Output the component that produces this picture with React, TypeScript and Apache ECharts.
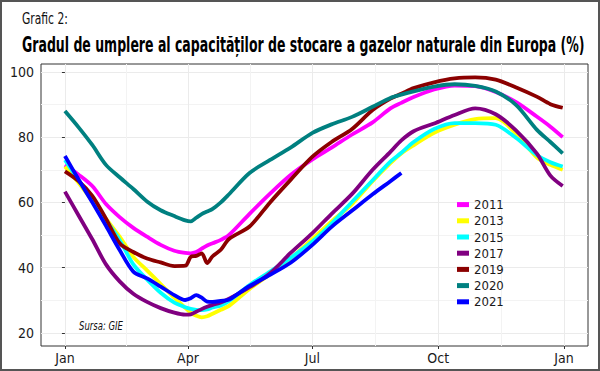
import React, { useEffect, useRef } from 'react';
import * as echarts from 'echarts';

const YEARS = ['2011', '2013', '2015', '2017', '2019', '2020', '2021'];
const COLORS = ['#FF00FF', '#FFFF00', '#00FFFF', '#800080', '#8B0000', '#008080', '#0000FF'];

const DAYS = [0, 10, 20, 30, 40, 50, 60, 70, 80, 88, 92, 96, 100, 104, 108, 114, 120, 135, 150, 165, 181, 195, 210, 225, 238, 246, 255, 270, 285, 300, 315, 330, 345, 355, 364];

const V2011 = [71.5, 68.5, 65, 59.5, 55.5, 52.2, 49.5, 47, 45.2, 44.5, 44.4, 44.8, 45.8, 46.8, 47.5, 48.5, 50, 56.5, 62.7, 68.4, 73.2, 76.8, 80.8, 84.5, 88.8, 90.5, 92.3, 94.6, 95.8, 95.6, 93.8, 90.7, 86.3, 83.2, 80];
const V2013 = [71, 66, 60.5, 55, 49.5, 43.3, 39.2, 35, 30.8, 27.7, 26.2, 25.3, 24.8, 25.1, 25.9, 27.1, 28.3, 33.5, 38, 42.8, 48.8, 54.2, 59.5, 66.5, 72, 75, 77.5, 81.3, 83.8, 85.5, 85.8, 81, 73.8, 71.5, 70];
const V2015 = [73, 66.8, 60.5, 54.5, 48.5, 41, 36.4, 32.3, 29.3, 27.9, 27.4, 27.1, 27, 27.2, 27.8, 28.4, 29.8, 34.7, 38.8, 43, 48, 53.5, 60.2, 66.8, 72.5, 75.2, 78.5, 82.5, 84.3, 84.3, 83.8, 79.7, 74.5, 72.3, 71];
const V2017 = [63.3, 56, 48.7, 41, 35.8, 32, 29.5, 27.6, 26.2, 25.6, 25.7, 26.5, 27.3, 28, 28.6, 29.3, 30.5, 34, 38.3, 44.5, 50.6, 56.5, 62.6, 70, 75.5, 79, 81.8, 84.2, 86.8, 88.8, 87, 82, 75, 68.2, 65];
const V2019 = [69.5, 66.5, 62, 55, 47.5, 44.8, 42.8, 41.6, 40.5, 40.6, 43.3, 43.6, 44.4, 41.4, 43.5, 45.5, 48.8, 52.6, 60, 66.9, 74, 78.5, 82.5, 88.3, 91.8, 93.3, 95, 96.8, 98, 98.3, 97.6, 95.2, 92.4, 90.1, 89];
const V2020 = [88, 83, 77.6, 71.5, 67.7, 64.1, 60.3, 57.6, 55.8, 54.5, 54.2, 55.3, 56.4, 57.2, 58, 60, 62.5, 69, 73, 76.8, 81.3, 83.9, 86.2, 89.3, 92, 93, 94, 95.5, 96.2, 95.7, 94, 89.8, 82.3, 78.5, 75];
const V2021 = [74.2, 67, 60, 52.8, 45.4, 38.8, 36.7, 34.2, 31.6, 30.1, 30.6, 31.6, 30.8, 29.6, 29.5, 29.8, 30.2, 34.4, 37.8, 41.5, 47, 52.5, 57.5, 62.5, 66.5, 69];

const VALUES = [V2011, V2013, V2015, V2017, V2019, V2020, V2021];

const X_TICKS = [0, 90, 181, 273, 365];
const X_LABELS = ['Jan', 'Apr', 'Jul', 'Oct', 'Jan'];
const X_MINOR = [45, 135.5, 227, 319];
const Y_TICKS = [20, 40, 60, 80, 100];
const Y_MINOR = [30, 50, 70, 90];

const SUPTITLE = 'Grafic 2:';
const TITLE = 'Gradul de umplere al capacităților de stocare a gazelor naturale din Europa (%)';
const SOURCE = 'Sursa: GIE';

const FONT = "'DejaVu Sans Condensed', 'Liberation Sans Narrow', 'Liberation Sans', sans-serif";

export default function App() {
  const ref = useRef<HTMLDivElement>(null);
  useEffect(() => {
    document.body.style.margin = '0';
    const chart = echarts.init(ref.current!, null, { renderer: 'svg' });
    const ctx = document.createElement('canvas').getContext('2d')!;
    const fit = (text: string, font: string, target: number) => {
      ctx.font = font;
      const w = ctx.measureText(text).width;
      return w > 0 ? target / w : 1;
    };
    const titleFont = `bold 21px ${FONT}`;
    const supFont = `15px ${FONT}`;
    const srcFont = `italic 12px ${FONT}`;

    const series = YEARS.map((y, i) => ({
      name: y,
      type: 'line',
      xAxisIndex: 0,
      yAxisIndex: 0,
      symbol: 'none',
      smooth: 0.3,
      lineStyle: { width: 3.8, color: COLORS[i], cap: 'butt', join: 'round' },
      itemStyle: { color: COLORS[i] },
      data: VALUES[i].map((v, j) => [DAYS[j], v]),
      z: 2 + i,
    }));

    chart.setOption({
      animation: false,
      backgroundColor: '#ffffff',
      grid: { left: 41, right: 12, top: 64, bottom: 25, show: true, borderColor: '#333333', borderWidth: 1, backgroundColor: 'transparent' },
      xAxis: [
        {
          type: 'value', min: -17.5, max: 382.5,
          axisLine: { show: false },
          axisTick: { show: true, length: 3, lineStyle: { color: '#333333' }, customValues: X_TICKS },
          axisLabel: {
            show: true, customValues: X_TICKS, margin: 5, fontSize: 14, fontFamily: FONT, color: '#1a1a1a',
            formatter: (v: number) => X_LABELS[X_TICKS.indexOf(v)] ?? '',
          },
          splitLine: { show: true, lineStyle: { color: '#EBEBEB', width: 1 } },
        },
        {
          type: 'value', min: -17.5, max: 382.5, position: 'bottom',
          axisLine: { show: false },
          axisTick: { show: false, customValues: X_MINOR },
          axisLabel: { show: false, customValues: X_MINOR },
          splitLine: { show: true, lineStyle: { color: '#F3F3F3', width: 1 } },
        },
      ],
      yAxis: [
        {
          type: 'value', min: 16, max: 102.4,
          axisLine: { show: false },
          axisTick: { show: true, length: 3, lineStyle: { color: '#333333' }, customValues: Y_TICKS },
          axisLabel: { show: true, customValues: Y_TICKS, margin: 7, fontSize: 14, fontFamily: FONT, color: '#1a1a1a' },
          splitLine: { show: true, lineStyle: { color: '#EBEBEB', width: 1 } },
        },
        {
          type: 'value', min: 16, max: 102.4,
          axisLine: { show: false },
          axisTick: { show: false, customValues: Y_MINOR },
          axisLabel: { show: false, customValues: Y_MINOR },
          splitLine: { show: true, lineStyle: { color: '#F3F3F3', width: 1 } },
        },
      ],
      legend: {
        data: YEARS, orient: 'vertical', left: 457, top: 197,
        icon: 'rect', itemWidth: 12, itemHeight: 5, itemGap: 1,
        textStyle: { fontSize: 13, fontFamily: FONT, color: '#1a1a1a', lineHeight: 15.2 },
        padding: 0,
      },
      graphic: [
        { type: 'rect', shape: { x: 1, y: 1, width: 598, height: 369 }, style: { fill: 'none', stroke: '#555555', lineWidth: 2 }, silent: true },
        {
          type: 'text', x: 22, y: 18, scaleX: fit(SUPTITLE, supFont, 46),
          style: { text: SUPTITLE, font: supFont, fill: '#111111', textAlign: 'left', textVerticalAlign: 'middle' },
        },
        {
          type: 'text', x: 22, y: 44, scaleX: fit(TITLE, titleFont, 563),
          style: { text: TITLE, font: titleFont, fill: '#000000', textAlign: 'left', textVerticalAlign: 'middle' },
        },
        {
          type: 'text', x: 79, y: 326, scaleX: fit(SOURCE, srcFont, 44),
          style: { text: SOURCE, font: srcFont, fill: '#111111', textAlign: 'left', textVerticalAlign: 'middle' },
        },
      ],
      series,
    });
    return () => chart.dispose();
  }, []);
  return <div ref={ref} style={{ width: 600, height: 371 }} />;
}
